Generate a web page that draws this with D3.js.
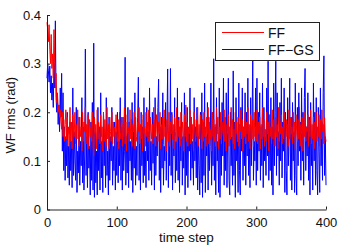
<!DOCTYPE html>
<html>
<head>
<meta charset="utf-8">
<script src="https://cdn.jsdelivr.net/npm/d3@7"></script>
<style>
  html, body { margin: 0; padding: 0; background: #fff; }
  svg { display: block; font-family: "Liberation Sans", Arial, sans-serif; }
</style>
</head>
<body>
<div id="chart"></div>
<script>
// WF rms per time step (steps 0..400)
const ffValues = [
  0.385,0.370,0.345,0.380,0.330,0.300,0.360,0.290,0.320,0.270,0.370,0.300,0.250,0.280,0.220,0.240,0.200,0.215,0.190,0.205,
  0.180,0.165,0.200,0.150,0.185,0.140,0.175,0.205,0.145,0.190,0.130,0.170,0.155,0.210,0.140,0.180,0.125,0.195,0.160,0.150,
  0.200,0.135,0.175,0.145,0.205,0.160,0.130,0.190,0.150,0.170,0.120,0.200,0.140,0.180,0.160,0.210,0.135,0.175,0.145,0.195,
  0.125,0.185,0.150,0.170,0.140,0.200,0.130,0.110,0.190,0.155,0.175,0.125,0.205,0.145,0.180,0.160,0.135,0.195,0.150,0.170,
  0.120,0.200,0.140,0.185,0.155,0.130,0.210,0.145,0.175,0.125,0.190,0.160,0.140,0.200,0.135,0.180,0.150,0.170,0.130,0.195,
  0.155,0.140,0.185,0.125,0.200,0.160,0.145,0.190,0.130,0.175,0.150,0.210,0.135,0.180,0.120,0.195,0.155,0.170,0.140,0.205,
  0.145,0.185,0.130,0.175,0.160,0.200,0.125,0.190,0.150,0.140,0.180,0.160,0.210,0.135,0.175,0.145,0.195,0.120,0.185,0.155,
  0.170,0.130,0.200,0.150,0.180,0.140,0.205,0.125,0.190,0.160,0.145,0.175,0.135,0.210,0.150,0.185,0.130,0.195,0.165,0.140,
  0.180,0.155,0.200,0.125,0.175,0.145,0.190,0.135,0.205,0.150,0.170,0.120,0.185,0.160,0.140,0.200,0.130,0.180,0.155,0.195,
  0.145,0.175,0.125,0.190,0.160,0.140,0.210,0.135,0.185,0.150,0.170,0.130,0.200,0.145,0.180,0.160,0.120,0.195,0.150,0.215,
  0.140,0.180,0.130,0.170,0.155,0.205,0.135,0.190,0.145,0.175,0.120,0.200,0.160,0.140,0.185,0.150,0.210,0.130,0.175,0.145,
  0.195,0.160,0.125,0.185,0.140,0.200,0.150,0.170,0.130,0.190,0.155,0.210,0.135,0.180,0.145,0.165,0.120,0.200,0.150,0.185,
  0.140,0.175,0.130,0.210,0.155,0.190,0.125,0.170,0.145,0.200,0.135,0.180,0.160,0.150,0.205,0.140,0.185,0.120,0.175,0.155,
  0.195,0.130,0.170,0.145,0.210,0.150,0.185,0.135,0.165,0.125,0.200,0.155,0.180,0.140,0.190,0.130,0.175,0.160,0.205,0.145,
  0.185,0.120,0.170,0.150,0.200,0.135,0.180,0.155,0.210,0.140,0.175,0.125,0.195,0.160,0.145,0.185,0.130,0.200,0.150,0.170,
  0.140,0.205,0.135,0.180,0.155,0.190,0.125,0.175,0.145,0.210,0.150,0.185,0.130,0.165,0.140,0.200,0.155,0.180,0.120,0.195,
  0.150,0.170,0.135,0.205,0.145,0.185,0.160,0.130,0.190,0.150,0.175,0.125,0.210,0.140,0.180,0.155,0.195,0.135,0.170,0.145,
  0.200,0.160,0.120,0.185,0.150,0.175,0.130,0.205,0.145,0.190,0.155,0.170,0.135,0.200,0.150,0.180,0.125,0.195,0.160,0.140,
  0.185,0.145,0.210,0.130,0.175,0.155,0.190,0.120,0.180,0.150,0.200,0.140,0.170,0.160,0.195,0.130,0.185,0.150,0.205,0.135,
  0.175,0.145,0.190,0.125,0.180,0.155,0.200,0.140,0.170,0.150,0.195,0.130,0.185,0.145,0.205,0.160,0.175,0.135,0.190,0.150,
  0.140
];

const ffgsValues = [
  0.270,0.300,0.285,0.262,0.295,0.240,0.275,0.225,0.260,0.210,0.300,0.250,0.388,0.230,0.200,0.235,0.175,0.215,0.160,0.250,
  0.190,0.280,0.120,0.240,0.080,0.170,0.060,0.150,0.090,0.200,0.065,0.130,0.050,0.180,0.080,0.140,0.045,0.250,0.070,0.160,
  0.100,0.060,0.210,0.035,0.120,0.075,0.190,0.050,0.140,0.090,0.230,0.055,0.170,0.040,0.110,0.330,0.070,0.150,0.045,0.200,
  0.085,0.130,0.030,0.180,0.060,0.220,0.040,0.342,0.025,0.160,0.055,0.120,0.030,0.210,0.080,0.170,0.040,0.240,0.065,0.140,
  0.035,0.200,0.090,0.160,0.045,0.230,0.070,0.120,0.030,0.190,0.060,0.150,0.100,0.210,0.050,0.130,0.080,0.180,0.040,0.160,
  0.070,0.200,0.055,0.140,0.090,0.230,0.060,0.170,0.040,0.190,0.080,0.120,0.313,0.050,0.150,0.075,0.210,0.045,0.180,0.100,
  0.140,0.060,0.220,0.035,0.160,0.085,0.240,0.050,0.130,0.070,0.190,0.272,0.060,0.150,0.040,0.200,0.090,0.170,0.055,0.230,
  0.070,0.120,0.045,0.210,0.100,0.160,0.060,0.250,0.080,0.140,0.050,0.200,0.095,0.180,0.040,0.230,0.070,0.150,0.110,0.210,
  0.268,0.060,0.170,0.035,0.190,0.085,0.240,0.050,0.130,0.100,0.220,0.060,0.180,0.289,0.045,0.150,0.090,0.290,0.070,0.200,
  0.040,0.160,0.110,0.230,0.055,0.140,0.080,0.250,0.060,0.190,0.035,0.170,0.100,0.220,0.050,0.150,0.085,0.240,0.030,0.180,
  0.070,0.210,0.045,0.160,0.120,0.250,0.060,0.190,0.085,0.140,0.050,0.230,0.100,0.170,0.065,0.210,0.040,0.150,0.090,0.030,
  0.200,0.055,0.240,0.025,0.180,0.070,0.260,0.035,0.150,0.110,0.220,0.040,0.190,0.080,0.130,0.260,0.050,0.200,0.090,0.310,
  0.060,0.170,0.030,0.230,0.100,0.140,0.035,0.250,0.025,0.180,0.070,0.220,0.110,0.270,0.050,0.190,0.080,0.240,0.045,0.160,
  0.270,0.060,0.030,0.200,0.090,0.150,0.050,0.285,0.070,0.180,0.025,0.230,0.100,0.140,0.035,0.260,0.080,0.030,0.210,0.120,
  0.250,0.060,0.170,0.090,0.240,0.050,0.200,0.110,0.270,0.070,0.160,0.045,0.230,0.090,0.180,0.309,0.060,0.140,0.100,0.250,
  0.050,0.270,0.080,0.200,0.120,0.240,0.060,0.170,0.090,0.260,0.045,0.210,0.100,0.150,0.070,0.250,0.110,0.305,0.060,0.190,
  0.080,0.230,0.050,0.170,0.030,0.260,0.090,0.200,0.305,0.070,0.240,0.110,0.160,0.050,0.220,0.100,0.270,0.065,0.180,0.120,
  0.250,0.035,0.200,0.080,0.030,0.230,0.090,0.150,0.270,0.060,0.190,0.040,0.220,0.100,0.160,0.035,0.260,0.070,0.030,0.210,
  0.090,0.240,0.120,0.180,0.060,0.250,0.100,0.200,0.050,0.230,0.290,0.080,0.170,0.110,0.240,0.060,0.190,0.030,0.220,0.090,
  0.150,0.040,0.260,0.100,0.200,0.050,0.230,0.080,0.030,0.210,0.120,0.035,0.250,0.090,0.180,0.060,0.240,0.316,0.070,0.150,
  0.050
];

const seriesNames = ["FF", "FF\u2212GS"];
const seriesColors = ["#ff0000", "#0000ff"];
const xTicks = [0, 100, 200, 300, 400];
const yTicks = [0, 0.1, 0.2, 0.3, 0.4];
const yTickLabels = ["0", "0.1", "0.2", "0.3", "0.4"];

const width = 343;
const height = 247;
const margin = { left: 47, right: 17, top: 15, bottom: 37.5 };

const svg = d3.select("#chart").append("svg")
  .attr("width", width)
  .attr("height", height);

svg.append("rect").attr("width", width).attr("height", height).attr("fill", "#fff");

const x = d3.scaleLinear().domain([0, 400]).range([margin.left, width - margin.right]);
const y = d3.scaleLinear().domain([0, 0.4]).range([height - margin.bottom, margin.top]);

const line = d3.line()
  .x((d, i) => x(i))
  .y(d => y(d));

// FF-GS first, FF drawn over it
const plot = svg.append("g");
[1, 0].forEach(k => {
  plot.append("path")
    .datum(k === 0 ? ffValues : ffgsValues)
    .attr("fill", "none")
    .attr("stroke", seriesColors[k])
    .attr("stroke-width", 1)
    .attr("stroke-linejoin", "round")
    .attr("d", line);
});

// axes (MATLAB style: ticks inward, box off)
const xAxis = svg.append("g")
  .attr("transform", `translate(0,${y(0)})`)
  .call(d3.axisBottom(x).tickValues(xTicks).tickSizeInner(-3).tickSizeOuter(0).tickPadding(8).tickFormat(d3.format("d")));

const yAxis = svg.append("g")
  .attr("transform", `translate(${x(0)},0)`)
  .call(d3.axisLeft(y).tickValues(yTicks).tickSizeInner(-3).tickSizeOuter(0).tickPadding(6)
    .tickFormat((d, i) => yTickLabels[i]));

[xAxis, yAxis].forEach(g => {
  g.selectAll("path, line").attr("stroke", "#222");
  g.selectAll("text").attr("fill", "#111").style("font-size", "13px");
  g.attr("font-family", null);
});

svg.append("text")
  .attr("x", (x(0) + x(400)) / 2)
  .attr("y", 242)
  .attr("text-anchor", "middle")
  .attr("fill", "#111")
  .style("font-size", "13.5px")
  .text("time step");

svg.append("text")
  .attr("transform", `translate(15,${(y(0) + y(0.4)) / 2 + 3}) rotate(-90)`)
  .attr("text-anchor", "middle")
  .attr("fill", "#111")
  .style("font-size", "13px")
  .text("WF rms (rad)");

// legend
const legend = svg.append("g");
legend.append("rect")
  .attr("x", 215.5).attr("y", 22.5)
  .attr("width", 104).attr("height", 38)
  .attr("fill", "#fff")
  .attr("stroke", "#222");

seriesNames.forEach((name, k) => {
  const ly = 32.5 + k * 17;
  legend.append("line")
    .attr("x1", 222).attr("x2", 264)
    .attr("y1", ly).attr("y2", ly)
    .attr("stroke", seriesColors[k]);
  legend.append("text")
    .attr("x", 268).attr("y", ly + 5)
    .attr("fill", "#111")
    .style("font-size", "14px")
    .text(name);
});
</script>
</body>
</html>
